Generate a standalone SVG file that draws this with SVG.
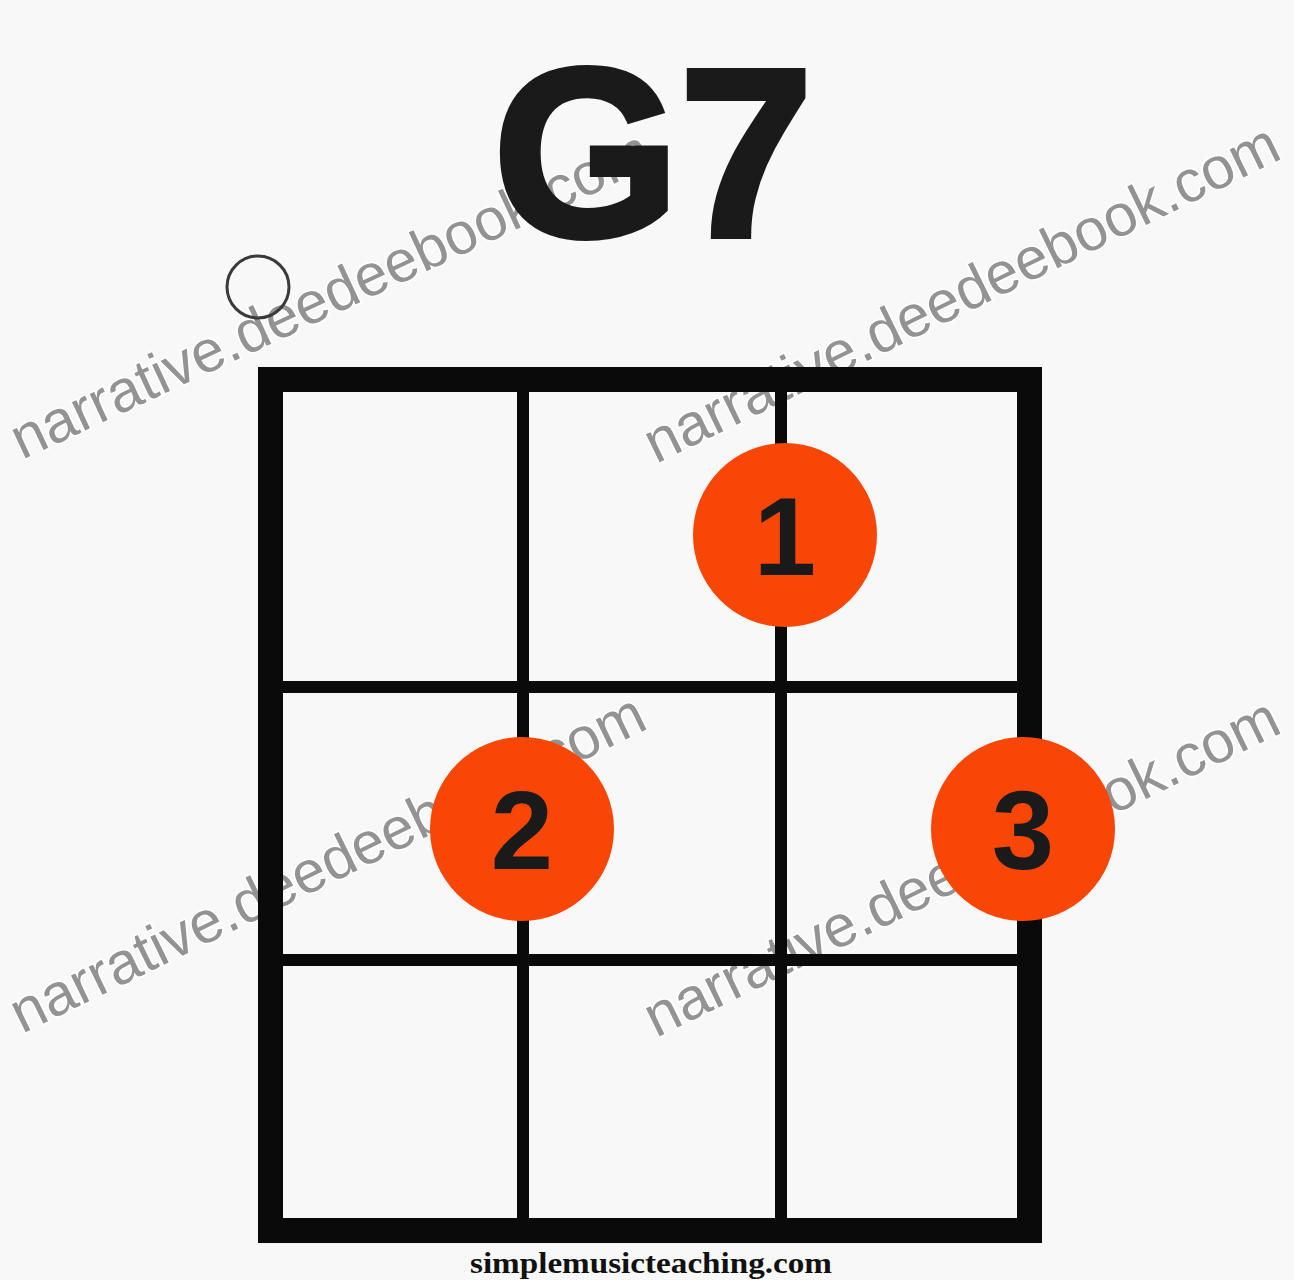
<svg xmlns="http://www.w3.org/2000/svg" width="1294" height="1280" viewBox="0 0 1294 1280">
<style>
.wm{font-family:"Liberation Sans",Arial,sans-serif;font-size:59px;fill:#939393;stroke:#ffffff;stroke-width:3px;paint-order:stroke;}
.frame{fill:none;stroke:#0a0a0a;stroke-width:25;}
.fret{stroke:#0a0a0a;stroke-width:12;}
.dot{fill:#f84606;}
.num{font-family:"Liberation Sans",Arial,sans-serif;font-weight:bold;font-size:112px;fill:#1a1a1a;text-anchor:middle;}
</style>
<rect x="0" y="0" width="1294" height="1280" fill="#f8f8f8"/>
<g id="watermarks">
<text class="wm" transform="translate(22,460) rotate(-25)">narrative.deedeebook.com</text>
<text class="wm" transform="translate(656,464) rotate(-26)">narrative.deedeebook.com</text>
<text class="wm" transform="translate(22,1034) rotate(-26)">narrative.deedeebook.com</text>
<text class="wm" transform="translate(656,1038) rotate(-26)">narrative.deedeebook.com</text>
</g>
<g id="title">
<text x="653" y="236" font-family="'Liberation Sans',Arial,sans-serif" font-weight="bold" font-size="240" fill="#1a1a1a" stroke="#1a1a1a" stroke-width="6" text-anchor="middle">G7</text>
</g>
<g id="open-string">
<circle cx="258" cy="287" r="31" fill="none" stroke="#3a3a3a" stroke-width="3"/>
</g>
<g id="grid">
<rect class="frame" x="270.5" y="379.5" width="759" height="851"/>
<line class="fret" x1="523" y1="392" x2="523" y2="1218"/>
<line class="fret" x1="781" y1="392" x2="781" y2="1218"/>
<line class="fret" x1="283" y1="687" x2="1017" y2="687"/>
<line class="fret" x1="283" y1="960" x2="1017" y2="960"/>
</g>
<g id="finger-1">
<circle class="dot" cx="785" cy="535" r="92"/>
<text class="num" x="785" y="575">1</text>
</g>
<g id="finger-2">
<circle class="dot" cx="522" cy="829" r="92"/>
<text class="num" x="522" y="869">2</text>
</g>
<g id="finger-3">
<circle class="dot" cx="1023" cy="829" r="92"/>
<text class="num" x="1023" y="869">3</text>
</g>
<g id="credit">
<text x="651" y="1273" font-family="'Liberation Serif','Times New Roman',serif" font-weight="bold" font-size="30" fill="#111111" text-anchor="middle" textLength="362" lengthAdjust="spacingAndGlyphs">simplemusicteaching.com</text>
</g>
</svg>
